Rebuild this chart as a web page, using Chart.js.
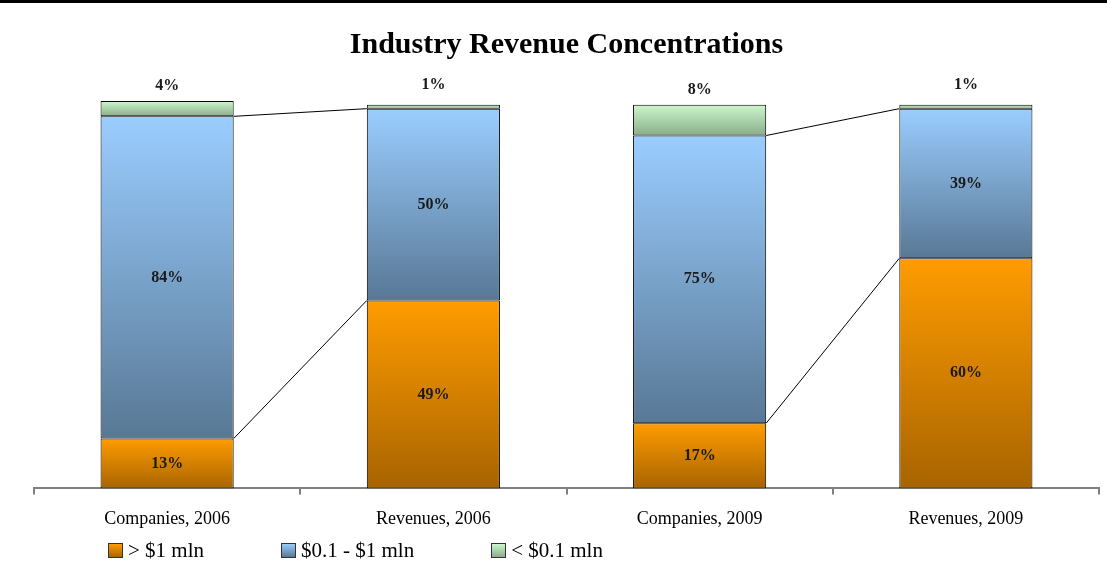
<!DOCTYPE html>
<html>
<head>
<meta charset="utf-8">
<script src="https://cdn.jsdelivr.net/npm/chart.js@4"></script>
<style>
  html, body { margin: 0; padding: 0; background: #fff; }
  #wrap { position: relative; width: 1107px; height: 578px; overflow: hidden; }
  #topline { position: absolute; left: 0; top: 0; width: 1107px; height: 3px; background: #000; }
  #legend { position: absolute; left: 108px; top: 538px; display: flex; gap: 77px;
            font-family: 'Liberation Serif', serif; font-size: 21px; color: #000; }
  .item { display: flex; align-items: center; }
  .box { width: 13px; height: 13px; border: 1px solid #333; margin-right: 5px; }
</style>
</head>
<body>
<div id="wrap">
  <canvas id="chart" width="1107" height="578"></canvas>
  <div id="topline"></div>
  <div id="legend"></div>
</div>
<script>
const categories = ['Companies, 2006', 'Revenues, 2006', 'Companies, 2009', 'Revenues, 2009'];
const seriesNames = ['> $1 mln', '$0.1 - $1 mln', '< $0.1 mln'];
const over1mln = [13, 49, 17, 60];
const mid = [84, 50, 75, 39];
const under01 = [4, 1, 8, 1];
const series = [over1mln, mid, under01];

// top / bottom colour of each segment's gradient
const palette = [
  ['#ff9c00', '#a86400'],
  ['#9acdff', '#587895'],
  ['#ccf8cc', '#8aac8a']
];

function segGradient(ctx, colors) {
  const chart = ctx.chart;
  const y = chart.scales.y;
  if (!y || ctx.type !== 'data') return colors[0];
  const i = ctx.dataIndex, d = ctx.datasetIndex;
  let start = 0;
  for (let k = 0; k < d; k++) start += series[k][i];
  const end = start + series[d][i];
  const top = y.getPixelForValue(end), bottom = y.getPixelForValue(start);
  if (!isFinite(top) || !isFinite(bottom) || top === bottom) return colors[0];
  const g = chart.ctx.createLinearGradient(0, top, 0, bottom);
  g.addColorStop(0, colors[0]);
  g.addColorStop(1, colors[1]);
  return g;
}

const yMax = Math.max(...categories.map((_, i) => series.reduce((s, a) => s + a[i], 0)));

// lines joining companies -> revenues at each split level
const connectors = {
  id: 'connectors',
  afterDatasetsDraw(chart) {
    const ctx = chart.ctx, y = chart.scales.y;
    const bars = chart.getDatasetMeta(0).data;
    ctx.save();
    ctx.strokeStyle = '#000';
    ctx.lineWidth = 1;
    for (let i = 0; i < categories.length; i += 2) {
      for (let lvl = 1; lvl <= 2; lvl++) {
        let a = 0, b = 0;
        for (let k = 0; k < lvl; k++) { a += series[k][i]; b += series[k][i + 1]; }
        const x1 = bars[i].x + bars[i].width / 2;
        const x2 = bars[i + 1].x - bars[i + 1].width / 2;
        ctx.beginPath();
        ctx.moveTo(x1, y.getPixelForValue(a));
        ctx.lineTo(x2, y.getPixelForValue(b));
        ctx.stroke();
      }
    }
    ctx.restore();
  }
};

const valueLabels = {
  id: 'valueLabels',
  afterDatasetsDraw(chart) {
    const ctx = chart.ctx;
    ctx.save();
    ctx.font = 'bold 16px "Liberation Serif", serif';
    ctx.fillStyle = '#1a1a1a';
    ctx.textAlign = 'center';
    ctx.textBaseline = 'middle';
    chart.data.datasets.forEach((ds, d) => {
      chart.getDatasetMeta(d).data.forEach((el, i) => {
        const txt = ds.data[i] + '%';
        const mid = (el.y + el.base) / 2;
        if (d < 2) ctx.fillText(txt, el.x, mid);
        else ctx.fillText(txt, el.x, Math.min(mid - 22, el.y - 15));
      });
    });
    ctx.restore();
  }
};

const datasets = series.map((vals, d) => ({
  label: seriesNames[d],
  data: vals,
  backgroundColor: (c) => segGradient(c, palette[d]),
  borderColor: '#000',
  borderWidth: 1,
  borderSkipped: false,
  categoryPercentage: 1,
  barPercentage: 0.5
}));

new Chart(document.getElementById('chart').getContext('2d'), {
  type: 'bar',
  data: { labels: categories, datasets },
  options: {
    responsive: false,
    animation: false,
    layout: { padding: { left: 34, right: 8, bottom: 34, top: 0 } },
    plugins: {
      legend: { display: false },
      tooltip: { enabled: false },
      title: {
        display: true,
        text: 'Industry Revenue Concentrations',
        color: '#000',
        font: { family: 'Liberation Serif', size: 30, weight: 'bold' },
        padding: { top: 27, bottom: 38 }
      }
    },
    scales: {
      x: {
        stacked: true,
        grid: { display: true, drawOnChartArea: false, drawTicks: true, tickLength: 6, color: '#808080', lineWidth: 2, offset: true },
        border: { display: true, color: '#808080', width: 2 },
        ticks: { color: '#000', padding: 14, font: { family: 'Liberation Serif', size: 18 } }
      },
      y: { stacked: true, display: false, min: 0, max: yMax }
    }
  },
  plugins: [connectors, valueLabels]
});

// legend
const legend = document.getElementById('legend');
seriesNames.forEach((name, d) => {
  const item = document.createElement('div');
  item.className = 'item';
  const box = document.createElement('span');
  box.className = 'box';
  box.style.background = `linear-gradient(${palette[d][0]}, ${palette[d][1]})`;
  const txt = document.createElement('span');
  txt.textContent = name;
  item.appendChild(box);
  item.appendChild(txt);
  legend.appendChild(item);
});
</script>
</body>
</html>
